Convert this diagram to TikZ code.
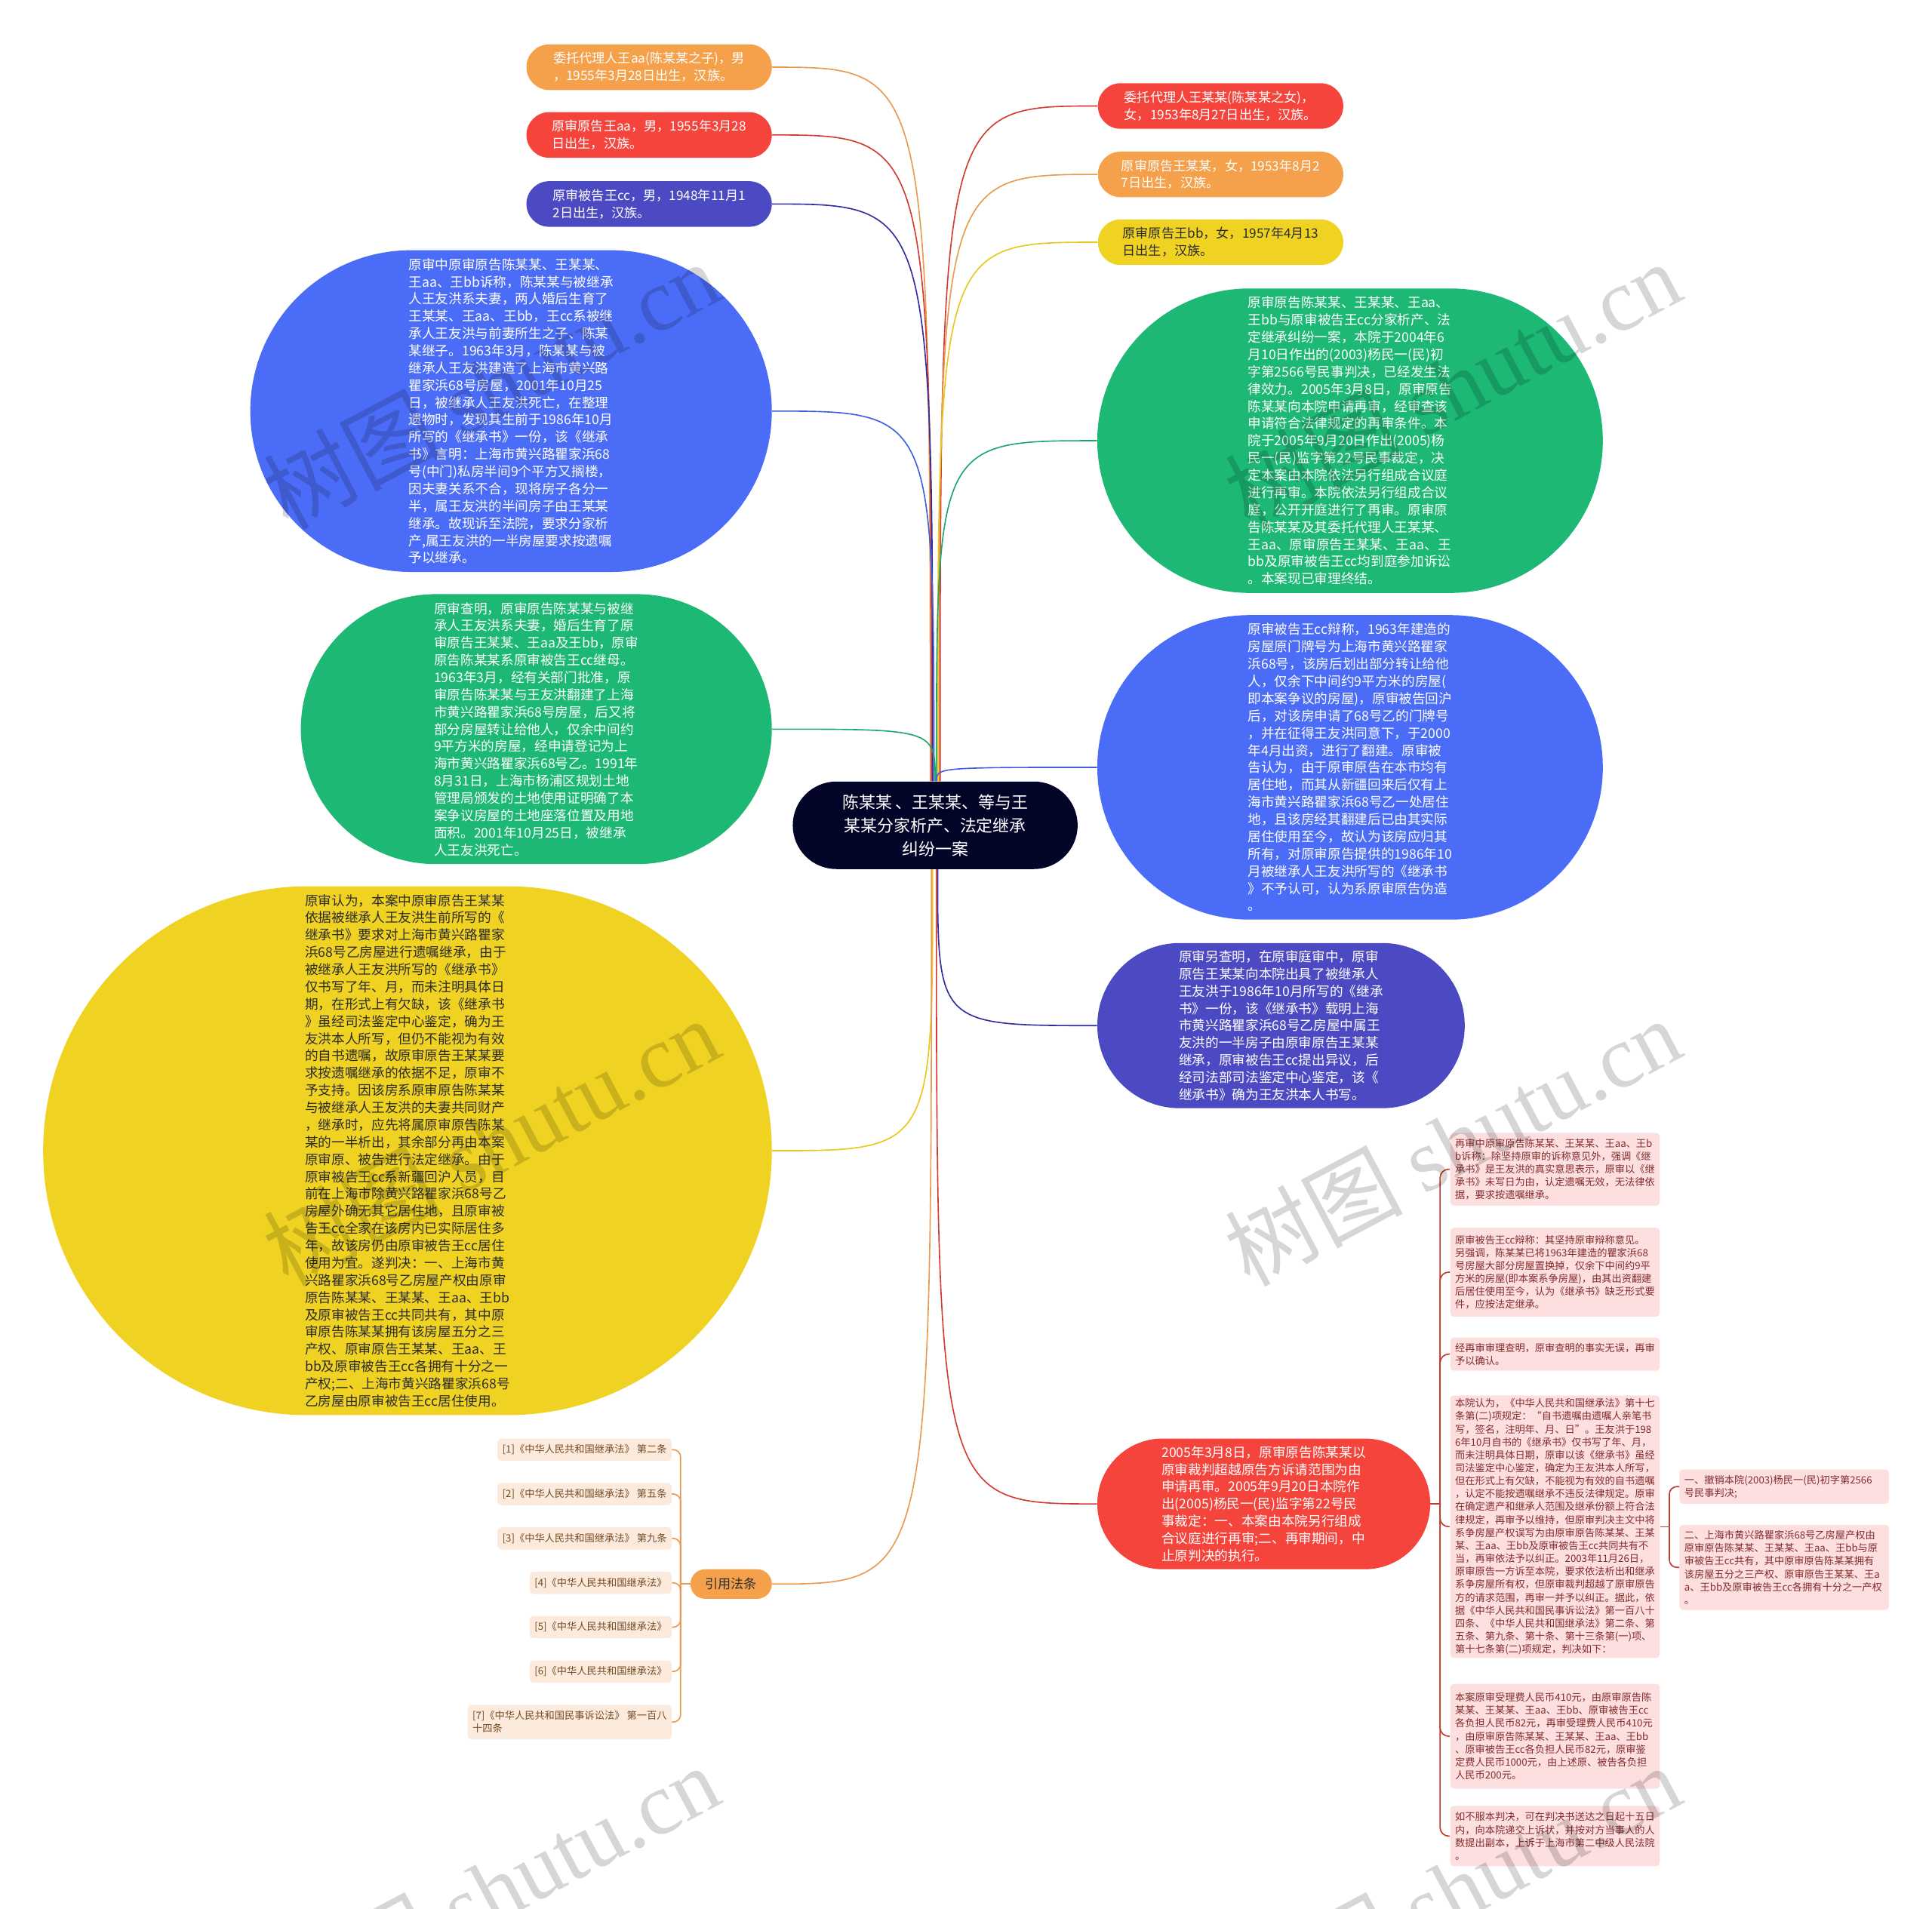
\documentclass[tikz,border=0pt]{standalone}
\usepackage{fontspec}
\setmainfont{Noto Sans CJK SC}
\newfontfamily\wmlat{Liberation Serif}
\definecolor{cOr}{HTML}{F5A04B}
\definecolor{cRd}{HTML}{F5443C}
\definecolor{cIn}{HTML}{4B4AC2}
\definecolor{cBl}{HTML}{4A6CF6}
\definecolor{cGr}{HTML}{1CB874}
\definecolor{cYe}{HTML}{F0D322}
\definecolor{cNv}{HTML}{030528}
\definecolor{cDk}{HTML}{2B2B2B}
\definecolor{cPk}{HTML}{FDDFDF}
\definecolor{cPkT}{HTML}{822C2C}
\definecolor{cBe}{HTML}{FCEBDD}
\definecolor{cBeT}{HTML}{744A24}
\definecolor{lOr}{HTML}{E89A4E}
\definecolor{lRd}{HTML}{D33A32}
\definecolor{lIn}{HTML}{2E2E9E}
\definecolor{lBl}{HTML}{3F5FE0}
\definecolor{lGr}{HTML}{1AA86A}
\definecolor{lYe}{HTML}{E6C81E}
\definecolor{lPk}{HTML}{C0392B}
\tikzset{
  bub/.style={shape=rectangle, inner sep=0pt, align=left, text=white, font=\fontsize{10.8}{14}\selectfont},
  small/.style={bub, font=\fontsize{10.5}{14}\selectfont, minimum width=199pt, minimum height=37pt, rounded corners=18.4pt},
  link/.style={line width=1pt},
  pk/.style={shape=rectangle, fill=cPk, rounded corners=3pt, text=cPkT, align=left, inner xsep=4pt, inner ysep=2pt, text width=162pt, font=\fontsize{8.1}{10.5}\selectfont, anchor=west},
  be/.style={shape=rectangle, fill=cBe, rounded corners=3pt, text=cBeT, align=left, inner xsep=4pt, inner ysep=2pt, minimum height=18pt, font=\fontsize{8.1}{10.5}\selectfont, anchor=east},
  wm/.style={rotate=28, opacity=0.16, font=\fontsize{72}{72}\selectfont}
}
\begin{document}
\begin{tikzpicture}[x=1pt,y=-1pt]
\useasboundingbox (0,0) rectangle (1567,1548.5);

% ---------- central topic
\node[bub, fill=cNv, align=center, font=\fontsize{13.4}{19}\selectfont, minimum width=231pt, minimum height=71pt, rounded corners=35.4pt] (cen) at (758.5,669.5) {陈某某 、王某某、等与王\\某某分家析产、法定继承\\纠纷一案};

% ---------- left branches
\node[small, fill=cOr] (oA) at (526.5,54.5) {委托代理人王aa(陈某某之子)，男\\，1955年3月28日出生，汉族。};
\node[small, fill=cRd] (rA) at (526.5,109.5) {原审原告王aa，男，1955年3月28\\日出生，汉族。};
\node[small, fill=cIn] (iA) at (526.5,165.5) {原审被告王cc，男，1948年11月1\\2日出生，汉族。};

\node[bub, fill=cBl, minimum width=423pt, minimum height=261pt, rounded corners=130.4pt] (bL) at (414.5,333.5) {原审中原审原告陈某某、王某某、\\王aa、王bb诉称，陈某某与被继承\\人王友洪系夫妻，两人婚后生育了\\王某某、王aa、王bb，王cc系被继\\承人王友洪与前妻所生之子、陈某\\某继子。1963年3月，陈某某与被\\继承人王友洪建造了上海市黄兴路\\瞿家浜68号房屋，2001年10月25\\日，被继承人王友洪死亡，在整理\\遗物时，发现其生前于1986年10月\\所写的《继承书》一份，该《继承\\书》言明：上海市黄兴路瞿家浜68\\号(中门)私房半间9个平方又搁楼，\\因夫妻关系不合，现将房子各分一\\半，属王友洪的半间房子由王某某\\继承。故现诉至法院，要求分家析\\产,属王友洪的一半房屋要求按遗嘱\\予以继承。};

\node[bub, fill=cGr, minimum width=382pt, minimum height=219pt, rounded corners=109.4pt] (gL) at (435,591.5) {原审查明，原审原告陈某某与被继\\承人王友洪系夫妻，婚后生育了原\\审原告王某某、王aa及王bb，原审\\原告陈某某系原审被告王cc继母。\\1963年3月，经有关部门批准，原\\审原告陈某某与王友洪翻建了上海\\市黄兴路瞿家浜68号房屋，后又将\\部分房屋转让给他人，仅余中间约\\9平方米的房屋，经申请登记为上\\海市黄兴路瞿家浜68号乙。1991年\\8月31日，上海市杨浦区规划土地\\管理局颁发的土地使用证明确了本\\案争议房屋的土地座落位置及用地\\面积。2001年10月25日，被继承\\人王友洪死亡。};

\node[bub, fill=cYe, text=cDk, minimum width=591pt, minimum height=429pt, rounded corners=214.4pt] (yL) at (330.5,933.5) {原审认为，本案中原审原告王某某\\依据被继承人王友洪生前所写的《\\继承书》要求对上海市黄兴路瞿家\\浜68号乙房屋进行遗嘱继承，由于\\被继承人王友洪所写的《继承书》\\仅书写了年、月，而未注明具体日\\期，在形式上有欠缺，该《继承书\\》虽经司法鉴定中心鉴定，确为王\\友洪本人所写，但仍不能视为有效\\的自书遗嘱，故原审原告王某某要\\求按遗嘱继承的依据不足，原审不\\予支持。因该房系原审原告陈某某\\与被继承人王友洪的夫妻共同财产\\，继承时，应先将属原审原告陈某\\某的一半析出，其余部分再由本案\\原审原、被告进行法定继承。由于\\原审被告王cc系新疆回沪人员，目\\前在上海市除黄兴路瞿家浜68号乙\\房屋外确无其它居住地，且原审被\\告王cc全家在该房内已实际居住多\\年，故该房仍由原审被告王cc居住\\使用为宜。遂判决：一、上海市黄\\兴路瞿家浜68号乙房屋产权由原审\\原告陈某某、王某某、王aa、王bb\\及原审被告王cc共同共有，其中原\\审原告陈某某拥有该房屋五分之三\\产权、原审原告王某某、王aa、王\\bb及原审被告王cc各拥有十分之一\\产权;二、上海市黄兴路瞿家浜68号\\乙房屋由原审被告王cc居住使用。};

\node[bub, fill=cOr, text=cDk, align=center, font=\fontsize{10.5}{14}\selectfont, minimum width=66pt, minimum height=24pt, rounded corners=11.9pt] (cite) at (593,1285) {引用法条};

\node[be] (c1) at (545,1176) {[1]《中华人民共和国继承法》 第二条};
\node[be] (c2) at (545,1212) {[2]《中华人民共和国继承法》 第五条};
\node[be] (c3) at (545,1248) {[3]《中华人民共和国继承法》 第九条};
\node[be] (c4) at (545,1284) {[4]《中华人民共和国继承法》};
\node[be] (c5) at (545,1320) {[5]《中华人民共和国继承法》};
\node[be] (c6) at (545,1356) {[6]《中华人民共和国继承法》};
\node[be, minimum height=28pt] (c7) at (545,1397) {[7]《中华人民共和国民事诉讼法》 第一百八\\十四条};

% ---------- right branches
\node[small, fill=cRd] (rB) at (990,86) {委托代理人王某某(陈某某之女)，\\女，1953年8月27日出生，汉族。};
\node[small, fill=cOr] (oB) at (990,141.5) {原审原告王某某，女，1953年8月2\\7日出生，汉族。};
\node[small, fill=cYe, text=cDk] (yB) at (990,196.5) {原审原告王bb，女，1957年4月13\\日出生，汉族。};

\node[bub, fill=cGr, minimum width=410pt, minimum height=247pt, rounded corners=123.4pt] (gR) at (1095,357.5) {原审原告陈某某、王某某、王aa、\\王bb与原审被告王cc分家析产、法\\定继承纠纷一案，本院于2004年6\\月10日作出的(2003)杨民一(民)初\\字第2566号民事判决，已经发生法\\律效力。2005年3月8日，原审原告\\陈某某向本院申请再审，经审查该\\申请符合法律规定的再审条件。本\\院于2005年9月20日作出(2005)杨\\民一(民)监字第22号民事裁定，决\\定本案由本院依法另行组成合议庭\\进行再审。本院依法另行组成合议\\庭，公开开庭进行了再审。原审原\\告陈某某及其委托代理人王某某、\\王aa、原审原告王某某、王aa、王\\bb及原审被告王cc均到庭参加诉讼\\。本案现已审理终结。};

\node[bub, fill=cBl, minimum width=410pt, minimum height=247pt, rounded corners=123.4pt] (bR) at (1095,622.5) {原审被告王cc辩称，1963年建造的\\房屋原门牌号为上海市黄兴路瞿家\\浜68号，该房后划出部分转让给他\\人，仅余下中间约9平方米的房屋(\\即本案争议的房屋)，原审被告回沪\\后，对该房申请了68号乙的门牌号\\，并在征得王友洪同意下，于2000\\年4月出资，进行了翻建。原审被\\告认为，由于原审原告在本市均有\\居住地，而其从新疆回来后仅有上\\海市黄兴路瞿家浜68号乙一处居住\\地，且该房经其翻建后已由其实际\\居住使用至今，故认为该房应归其\\所有，对原审原告提供的1986年10\\月被继承人王友洪所写的《继承书\\》不予认可，认为系原审原告伪造\\。};

\node[bub, fill=cIn, minimum width=298pt, minimum height=134pt, rounded corners=66.9pt] (iR) at (1039,832) {原审另查明，在原审庭审中，原审\\原告王某某向本院出具了被继承人\\王友洪于1986年10月所写的《继承\\书》一份，该《继承书》载明上海\\市黄兴路瞿家浜68号乙房屋中属王\\友洪的一半房子由原审原告王某某\\继承，原审被告王cc提出异议，后\\经司法部司法鉴定中心鉴定，该《\\继承书》确为王友洪本人书写。};

\node[bub, fill=cRd, minimum width=270pt, minimum height=106pt, rounded corners=52.9pt] (rR) at (1025,1220) {2005年3月8日，原审原告陈某某以\\原审裁判超越原告方诉请范围为由\\申请再审。2005年9月20日本院作\\出(2005)杨民一(民)监字第22号民\\事裁定：一、本案由本院另行组成\\合议庭进行再审;二、再审期间，中\\止原判决的执行。};

\node[pk, minimum height=59pt] (pa) at (1176,948.5) {再审中原审原告陈某某、王某某、王aa、王b\\b诉称：除坚持原审的诉称意见外，强调《继\\承书》是王友洪的真实意思表示，原审以《继\\承书》未写日为由，认定遗嘱无效，无法律依\\据，要求按遗嘱继承。};
\node[pk, minimum height=72pt] (pb) at (1176,1032) {原审被告王cc辩称：其坚持原审辩称意见。\\另强调，陈某某已将1963年建造的瞿家浜68\\号房屋大部分房屋置换掉，仅余下中间约9平\\方米的房屋(即本案系争房屋)，由其出资翻建\\后居住使用至今，认为《继承书》缺乏形式要\\件，应按法定继承。};
\node[pk, minimum height=27pt] (pc) at (1176,1098.5) {经再审审理查明，原审查明的事实无误，再审\\予以确认。};
\node[pk, minimum height=213pt] (pd) at (1176,1238.5) {本院认为，《中华人民共和国继承法》第十七\\条第(二)项规定：“自书遗嘱由遗嘱人亲笔书\\写，签名，注明年、月、日”。王友洪于198\\6年10月自书的《继承书》仅书写了年、月，\\而未注明具体日期，原审以该《继承书》虽经\\司法鉴定中心鉴定，确定为王友洪本人所写，\\但在形式上有欠缺，不能视为有效的自书遗嘱\\，认定不能按遗嘱继承不违反法律规定。原审\\在确定遗产和继承人范围及继承份额上符合法\\律规定，再审予以维持，但原审判决主文中将\\系争房屋产权误写为由原审原告陈某某、王某\\某、王aa、王bb及原审被告王cc共同共有不\\当，再审依法予以纠正。2003年11月26日，\\原审原告一方诉至本院，要求依法析出和继承\\系争房屋所有权，但原审裁判超越了原审原告\\方的请求范围，再审一并予以纠正。据此，依\\据《中华人民共和国民事诉讼法》第一百八十\\四条、《中华人民共和国继承法》第二条、第\\五条、第九条、第十条、第十三条第(一)项、\\第十七条第(二)项规定，判决如下：};
\node[pk, minimum height=85pt] (pe) at (1176,1408.5) {本案原审受理费人民币410元，由原审原告陈\\某某、王某某、王aa、王bb、原审被告王cc\\各负担人民币82元，再审受理费人民币410元\\，由原审原告陈某某、王某某、王aa、王bb\\、原审被告王cc各负担人民币82元，原审鉴\\定费人民币1000元，由上述原、被告各负担\\人民币200元。};
\node[pk, minimum height=49pt] (pf) at (1176,1489.5) {如不服本判决，可在判决书送达之日起十五日\\内，向本院递交上诉状，并按对方当事人的人\\数提出副本，上诉于上海市第二中级人民法院\\。};
\node[pk, minimum height=28pt] (pd1) at (1362,1206) {一、撤销本院(2003)杨民一(民)初字第2566\\号民事判决;};
\node[pk, minimum height=69pt] (pd2) at (1362,1271.5) {二、上海市黄兴路瞿家浜68号乙房屋产权由\\原审原告陈某某、王某某、王aa、王bb与原\\审被告王cc共有，其中原审原告陈某某拥有\\该房屋五分之三产权、原审原告王某某、王a\\a、王bb及原审被告王cc各拥有十分之一产权\\。};

% ---------- connectors from the central topic
\draw[link, lOr] ([xshift=-4pt]cen.north) .. controls ([xshift=-4pt]cen.north |- oA.east) .. (oA.east);
\draw[link, lRd] ([xshift=-3pt]cen.north) .. controls ([xshift=-3pt]cen.north |- rA.east) .. (rA.east);
\draw[link, lIn] ([xshift=-2pt]cen.north) .. controls ([xshift=-2pt]cen.north |- iA.east) .. (iA.east);
\draw[link, lBl] ([xshift=-1pt]cen.north) .. controls ([xshift=-1pt]cen.north |- bL.east) .. (bL.east);
\draw[link, lGr] (cen.north) .. controls (cen.north |- gL.east) .. (gL.east);
\draw[link, lRd] ([xshift=4pt]cen.north) .. controls ([xshift=4pt]cen.north |- rB.west) .. (rB.west);
\draw[link, lOr] ([xshift=3pt]cen.north) .. controls ([xshift=3pt]cen.north |- oB.west) .. (oB.west);
\draw[link, lYe] ([xshift=2pt]cen.north) .. controls ([xshift=2pt]cen.north |- yB.west) .. (yB.west);
\draw[link, lGr] ([xshift=1pt]cen.north) .. controls ([xshift=1pt]cen.north |- gR.west) .. (gR.west);
\draw[link, lBl] ([xshift=1pt]cen.north) .. controls ([xshift=1pt]cen.north |- bR.west) .. (bR.west);
\draw[link, lYe] ([xshift=-2pt]cen.south) .. controls ([xshift=-2pt]cen.south |- yL.east) .. (yL.east);
\draw[link, lOr] ([xshift=-3pt]cen.south) .. controls ([xshift=-3pt]cen.south |- cite.east) .. (cite.east);
\draw[link, lIn] ([xshift=2pt]cen.south) .. controls ([xshift=2pt]cen.south |- iR.west) .. (iR.west);
\draw[link, lRd] ([xshift=1pt]cen.south) .. controls ([xshift=1pt]cen.south |- rR.west) .. (rR.west);

% ---------- sub-branch connectors
\coordinate (ctr) at (552,1285);
\draw[link, lOr] (cite.west) -- (ctr);
\foreach \c in {c1,c2,c3,c4,c5,c6,c7}
  \draw[link, lOr, rounded corners=6pt] (ctr) |- (\c.east);

\coordinate (rtr) at (1168,1220);
\draw[link, lPk] (rR.east) -- (rtr);
\foreach \c in {pa,pb,pc,pd,pe,pf}
  \draw[link, lPk, rounded corners=7pt] (rtr) |- (\c.west);

\coordinate (dtr) at (1354,1238.5);
\draw[link, lPk] (pd.east) -- (dtr);
\foreach \c in {pd1,pd2}
  \draw[link, lPk, rounded corners=6pt] (dtr) |- (\c.west);

% ---------- watermarks
\begin{scope}
\clip (0,0) rectangle (1567,1548.5);
\node[wm] (w1) at (398,312) {树图 {\wmlat shutu.cn}};
\node[wm] (w2) at (1178,312) {树图 {\wmlat shutu.cn}};
\node[wm] (w3) at (398,926) {树图 {\wmlat shutu.cn}};
\node[wm] (w4) at (1178,926) {树图 {\wmlat shutu.cn}};
\node[wm] (w5) at (398,1532) {树图 {\wmlat shutu.cn}};
\node[wm] (w6) at (1178,1532) {树图 {\wmlat shutu.cn}};
\end{scope}
\end{tikzpicture}
\end{document}
